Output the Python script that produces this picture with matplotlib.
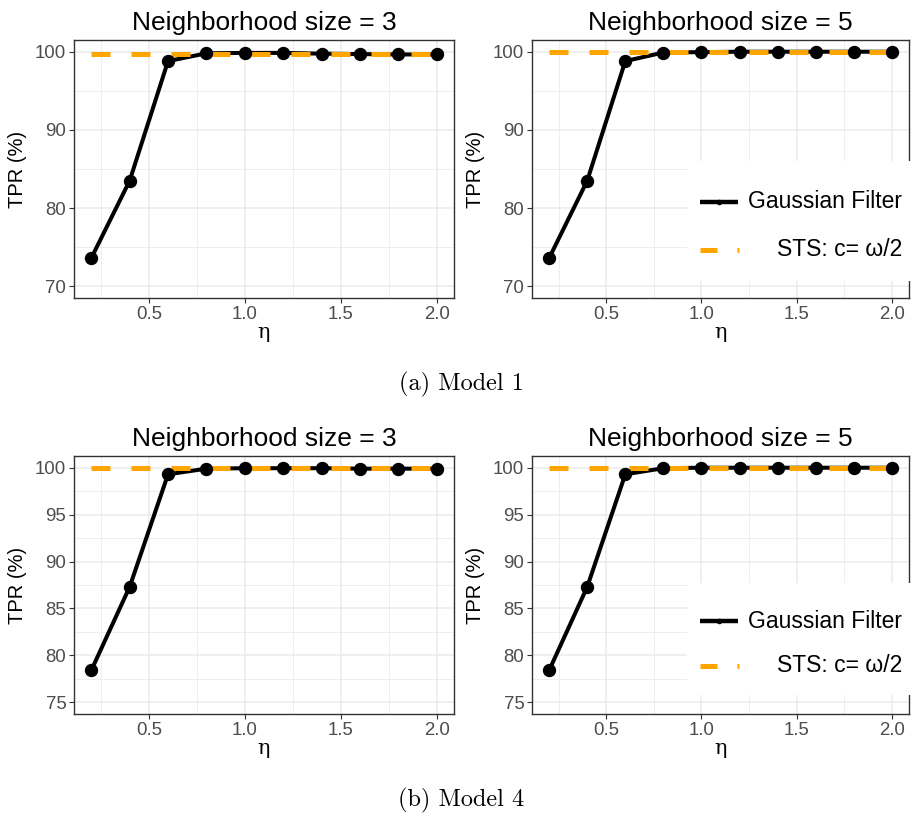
import numpy as np
import matplotlib
matplotlib.use('Agg')
import matplotlib.pyplot as plt
from matplotlib.lines import Line2D
from matplotlib.patches import Rectangle
from matplotlib.ticker import MultipleLocator

plt.rcParams['font.family'] = ['Liberation Sans', 'DejaVu Sans']

# ---- data ----
eta = [0.2, 0.4, 0.6, 0.8, 1.0, 1.2, 1.4, 1.6, 1.8, 2.0]

m1_gf_3 = [73.6, 83.5, 98.8, 99.8, 99.85, 99.85, 99.75, 99.7, 99.65, 99.65]
m1_sts_3 = 99.7
m1_gf_5 = [73.6, 83.5, 98.8, 99.9, 99.95, 100.0, 100.0, 100.0, 100.0, 100.0]
m1_sts_5 = 100.0

m4_gf_3 = [78.4, 87.3, 99.3, 99.9, 99.95, 99.95, 99.95, 99.9, 99.9, 99.9]
m4_sts_3 = 99.95
m4_gf_5 = [78.4, 87.3, 99.3, 99.95, 100.0, 100.0, 100.0, 100.0, 100.0, 100.0]
m4_sts_5 = 100.0

titles = ['Neighborhood size = 3', 'Neighborhood size = 5']
captions = ['(a) Model 1', '(b) Model 4']

GF_COLOR = 'black'
STS_COLOR = '#FFA500'

W, H = 911, 814
fig = plt.figure(figsize=(W / 100, H / 100), dpi=100)


def px_axes(x0, y0, x1, y1):
    # pixel box (top-left origin) -> figure axes
    return fig.add_axes([x0 / W, 1 - y1 / H, (x1 - x0) / W, (y1 - y0) / H])


def draw_panel(ax, gf, sts, title, ylo, yhi, ystep):
    ax.plot(eta, gf, color=GF_COLOR, lw=2.9, zorder=3, solid_capstyle='butt')
    ax.plot([eta[0], eta[-1]], [sts, sts], color=STS_COLOR, lw=3.6,
            linestyle=(0, (3.8, 4.2)), zorder=4)
    ax.plot(eta, gf, color=GF_COLOR, lw=0, marker='o', markersize=8.6, zorder=5)

    pad_x = (eta[-1] - eta[0]) * 0.05
    ax.set_xlim(eta[0] - pad_x, eta[-1] + pad_x)
    pad_y = (yhi - ylo) * 0.05
    ax.set_ylim(ylo - pad_y, yhi + pad_y)
    ax.set_xticks([0.5, 1.0, 1.5, 2.0])
    ax.xaxis.set_minor_locator(MultipleLocator(0.25))
    ax.yaxis.set_major_locator(MultipleLocator(ystep))
    ax.yaxis.set_minor_locator(MultipleLocator(ystep / 2))
    ax.grid(True, which='major', color='#EBEBEB', lw=1.1, zorder=0)
    ax.grid(True, which='minor', color='#EBEBEB', lw=0.6, zorder=0)
    ax.set_axisbelow(True)
    ax.tick_params(which='major', length=3.5, width=0.8, color='#333333',
                   labelsize=13.4, labelcolor='#4D4D4D', pad=2)
    ax.tick_params(which='minor', length=0)
    for s in ax.spines.values():
        s.set_color('#333333')
        s.set_linewidth(1.0)
    ax.set_title(title, fontsize=19, pad=7)
    ax.set_xlabel('η', fontsize=15, family=['DejaVu Serif'], labelpad=0)
    ax.set_ylabel('TPR (%)', fontsize=14.5, labelpad=6)


def draw_legend(x0, y0, x1, y1):
    fig.patches.append(Rectangle((x0 / W, 1 - y1 / H), (x1 - x0) / W, (y1 - y0) / H,
                                 transform=fig.transFigure, facecolor='white',
                                 edgecolor='none', zorder=10))
    ya = y0 + (y1 - y0) * 0.34
    yb = y0 + (y1 - y0) * 0.74
    fig.lines.append(Line2D([700 / W, 719 / W, 738 / W], [1 - ya / H] * 3,
                            color=GF_COLOR, lw=3.2, transform=fig.transFigure,
                            zorder=11, marker='o', markevery=[1], markersize=3,
                            solid_capstyle='butt'))
    fig.lines.append(Line2D([700 / W, 717 / W], [1 - yb / H] * 2, color=STS_COLOR,
                            lw=3.6, transform=fig.transFigure, zorder=11,
                            solid_capstyle='butt'))
    fig.lines.append(Line2D([736.5 / W, 739 / W], [1 - yb / H] * 2, color=STS_COLOR,
                            lw=3.6, transform=fig.transFigure, zorder=11,
                            solid_capstyle='butt'))
    fig.text(902 / W, 1 - ya / H, 'Gaussian Filter', fontsize=16.5, ha='right',
             va='center', zorder=12)
    fig.text(902 / W, 1 - yb / H, 'STS: c= ω/2', fontsize=16.5, ha='right',
             va='center', zorder=12)


# ---- Model 1 ----
ax1 = px_axes(74, 40, 454, 298)
draw_panel(ax1, m1_gf_3, m1_sts_3, titles[0], 70, 100, 10)
ax2 = px_axes(532, 40, 909, 298)
draw_panel(ax2, m1_gf_5, m1_sts_5, titles[1], 70, 100, 10)
draw_legend(687, 161, 911, 281)

# ---- Model 4 ----
ax3 = px_axes(74, 456, 454, 714)
draw_panel(ax3, m4_gf_3, m4_sts_3, titles[0], 75, 100, 5)
ax4 = px_axes(532, 456, 909, 714)
draw_panel(ax4, m4_gf_5, m4_sts_5, titles[1], 75, 100, 5)
draw_legend(687, 583, 911, 695)

fig.text(461 / W, 1 - 384 / H, captions[0], fontsize=17.5, family='cmr10',
         ha='center', va='center')
fig.text(461 / W, 1 - 800 / H, captions[1], fontsize=17.5, family='cmr10',
         ha='center', va='center')

fig.savefig('out.png', dpi=100)
